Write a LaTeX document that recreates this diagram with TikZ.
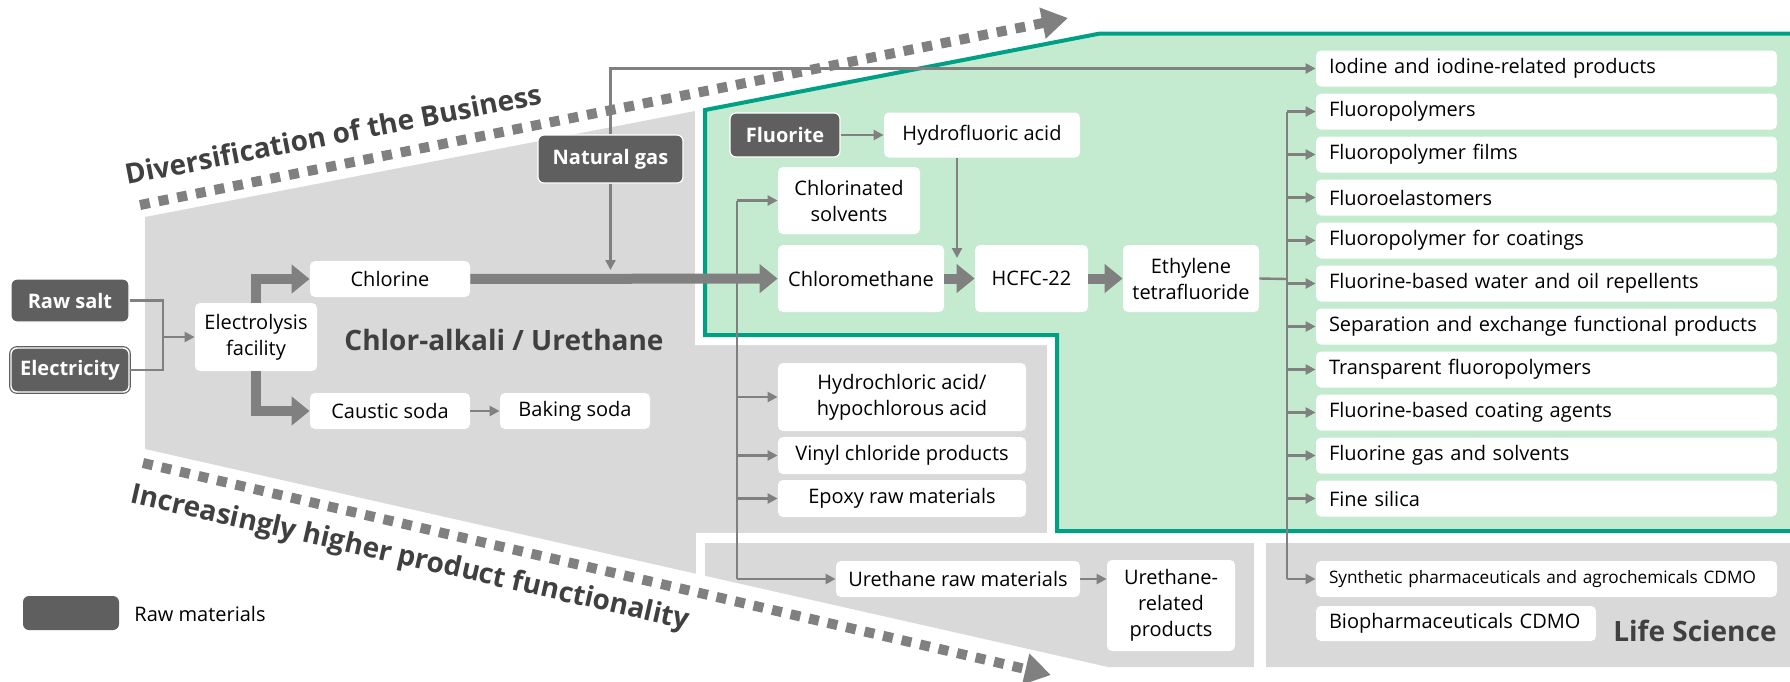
\documentclass[tikz,border=0pt]{standalone}
\usepackage{fontspec}
\setmainfont{Open Sans}
\usetikzlibrary{positioning, arrows.meta}
\definecolor{rawgray}{HTML}{5F5F5F}
\definecolor{zonegray}{HTML}{D9D9D9}
\definecolor{fluorgreen}{HTML}{C4EBD0}
\definecolor{fluorteal}{HTML}{00A087}
\definecolor{flowgray}{HTML}{808080}
\definecolor{labeldark}{HTML}{404040}

\begin{document}
\begin{tikzpicture}[x=0.5pt, y=-0.5pt, font=\fontsize{10pt}{13pt}\selectfont]
        \tikzstyle{item} = [rectangle, fill=white, rounded corners=2.5pt, inner sep=0pt, align=center]
        \tikzstyle{prod} = [item, text width=217.5pt, inner xsep=6.5pt, minimum height=18pt, align=left]
        \tikzstyle{raw} = [rectangle, fill=rawgray, draw=white, line width=0.6pt, rounded corners=3pt,
          inner sep=0pt, text=white, font=\fontsize{10pt}{12pt}\selectfont\bfseries]
        \tikzstyle{zone} = [font=\fontsize{14pt}{16pt}\selectfont\bfseries, text=labeldark, inner sep=0pt]
        \tikzstyle{flow} = [draw=flowgray, line width=1.2pt, -{Triangle[length=5pt, width=5pt]}]
        \tikzstyle{bus} = [draw=flowgray, line width=1.2pt]
        \tikzstyle{bigflow} = [draw=flowgray, line width=5pt, -{Triangle[length=9pt, width=14pt]}]
        \tikzstyle{trend} = [draw=flowgray, line width=5pt, dash pattern=on 5pt off 4.5pt,
          -{Triangle[length=13pt, width=15pt]}]

        \useasboundingbox (0,0) rectangle (1790,681);

        % business zones
        \fill[zonegray] (145,217) -- (1100,33) -- (1800,33) -- (1800,667) -- (1108,667) -- (145,449) -- cycle;
        \draw[white, line width=5pt] (696,538) -- (1800,538);
        \draw[white, line width=4.5pt] (700.5,538) -- (700.5,690);
        \draw[white, line width=6pt] (1260,538) -- (1260,690);
        \draw[white, line width=10pt] (705,110) -- (1100,33.5) -- (1800,33.5) -- (1800,531) -- (1057,531) -- (1057,335) -- (705,335) -- cycle;
        \filldraw[fill=fluorgreen, draw=fluorteal, line width=2pt] (705,110) -- (1100,33.5) -- (1800,33.5) -- (1800,531) -- (1057,531) -- (1057,335) -- (705,335) -- cycle;

        % trend arrows
        \coordinate (divA) at (140,205);
        \coordinate (divB) at (1068,18);
        \coordinate (funA) at (143,463);
        \coordinate (funB) at (1051,675);
        \draw[trend] (divA) -- (divB);
        \draw[trend] (funA) -- (funB);
        \node[zone, rotate=11] (divlabel) at (333,134) {Diversification of the Business};
        \node[zone, rotate=-12.8] (funlabel) at (410,559) {Increasingly higher product functionality};
        \node[zone] (chlorzone) at (504,340) {Chlor-alkali / Urethane};
        \node[zone, anchor=east] (lifezone) at (1777,631) {Life Science};

        % raw materials
        \node[raw, minimum width=59pt, minimum height=21.5pt] (rawsalt) at (70,300.5) {Raw salt};
        \node[raw, minimum width=59pt, minimum height=22pt, draw=rawgray, double=white, double distance=0.7pt] (elec) at (70,370) {Electricity};
        \node[raw, minimum width=72.5pt, minimum height=24pt] (natgas) at (610.5,159) {Natural gas};
        \node[raw, minimum width=55pt, minimum height=22pt] (fluorite) at (785,135) {Fluorite};

        % chlor-alkali chain
        \node[item, minimum width=61pt, minimum height=34pt] (electro) at (256,337) {Electrolysis\\facility};
        \node[item, minimum width=80pt, minimum height=18pt] (chlorine) at (390,279) {Chlorine};
        \node[item, minimum width=80pt, minimum height=18pt] (caustic) at (390,411) {Caustic soda};
        \node[item, minimum width=75pt, minimum height=18pt] (baking) at (575,411) {Baking soda};
        \node[item, minimum width=98pt, minimum height=22.5pt] (hf) at (982,135) {Hydrofluoric acid};
        \node[item, minimum width=71pt, minimum height=33.5pt] (chlsolv) at (849,200.5) {Chlorinated\\solvents};
        \node[item, minimum width=83pt, minimum height=33.5pt] (chlmeth) at (861,278.5) {Chloromethane};
        \node[item, minimum width=56.5pt, minimum height=33.5pt] (hcfc) at (1031.5,278.5) {HCFC-22};
        \node[item, minimum width=68pt, minimum height=33.5pt] (tfe) at (1191,278.5) {Ethylene\\tetrafluoride};
        \node[item, minimum width=124pt, minimum height=34pt] (hcl) at (902,397) {Hydrochloric acid/\\hypochlorous acid};
        \node[item, minimum width=124pt, minimum height=18.5pt] (vinyl) at (902,455.5) {Vinyl chloride products};
        \node[item, minimum width=124pt, minimum height=18.5pt] (epoxy) at (902,498.5) {Epoxy raw materials};
        \node[item, minimum width=122pt, minimum height=18pt] (urraw) at (958,579) {Urethane raw materials};
        \node[item, minimum width=64pt, minimum height=45.5pt] (urrel) at (1171,605.5) {Urethane-\\related\\products};

        % fluorochemical products
        \foreach \name [count=\i] in {Iodine and iodine-related products, Fluoropolymers, Fluoropolymer films,
          Fluoroelastomers, Fluoropolymer for coatings, Fluorine-based water and oil repellents,
          Separation and exchange functional products, Transparent fluoropolymers,
          Fluorine-based coating agents, Fluorine gas and solvents, Fine silica}
          \node[prod] (prod\i) at (1546.5, 25.5+43*\i) {\name};
        \node[prod, font=\fontsize{8.6pt}{11pt}\selectfont] (synth) at (1546.5,579) {Synthetic pharmaceuticals and agrochemicals CDMO};
        \node[prod, text width=127pt, minimum height=17.5pt] (bio) at (1456,623.5) {Biopharmaceuticals CDMO};

        % legend
        \node[raw, draw=none, minimum width=48pt, minimum height=17pt] (legend) at (71,613) {};
        \node[anchor=west, inner sep=0pt] (legendtxt) at (134,614) {Raw materials};

        % connectors
        \coordinate (rawjoin) at (163,337);
        \draw[flow] (rawsalt.east) -| (rawjoin) -- (electro.west);
        \draw[bus] (elec.east) -| (rawjoin);
        \draw[bigflow] (electro.north) |- (chlorine.west);
        \draw[bigflow] (electro.south) |- (caustic.west);
        \draw[flow] (caustic) -- (baking);
        \draw[bigflow] (chlorine) -- (chlmeth);
        \coordinate (gasin) at (610.5,270);
        \draw[flow] (natgas.south) -- (gasin);
        \draw[flow] (natgas.north) |- (prod1.west);
        \draw[flow] (fluorite) -- (hf);
        \coordinate (hfin) at (957,258);
        \draw[flow] (hf.south -| hfin) -- (hfin);
        \draw[bigflow] (chlmeth) -- (hcfc);
        \draw[bigflow] (hcfc) -- (tfe);

        \coordinate (clbus) at (737,279);
        \draw[bus] (chlsolv.west -| clbus) -- (urraw.west -| clbus);
        \foreach \dest in {chlsolv, hcl, vinyl, epoxy, urraw}
          \draw[flow] (\dest.west -| clbus) -- (\dest.west);
        \draw[flow] (urraw.east) -- (urraw.east -| urrel.west);

        \coordinate (fbus) at (1287,279);
        \draw[bus] (tfe.east) -- (fbus);
        \draw[bus] (prod2.west -| fbus) -- (synth.west -| fbus);
        \foreach \i in {2,...,11}
          \draw[flow] (prod\i.west -| fbus) -- (prod\i.west);
        \draw[flow] (synth.west -| fbus) -- (synth.west);
      \end{tikzpicture}
\end{document}
